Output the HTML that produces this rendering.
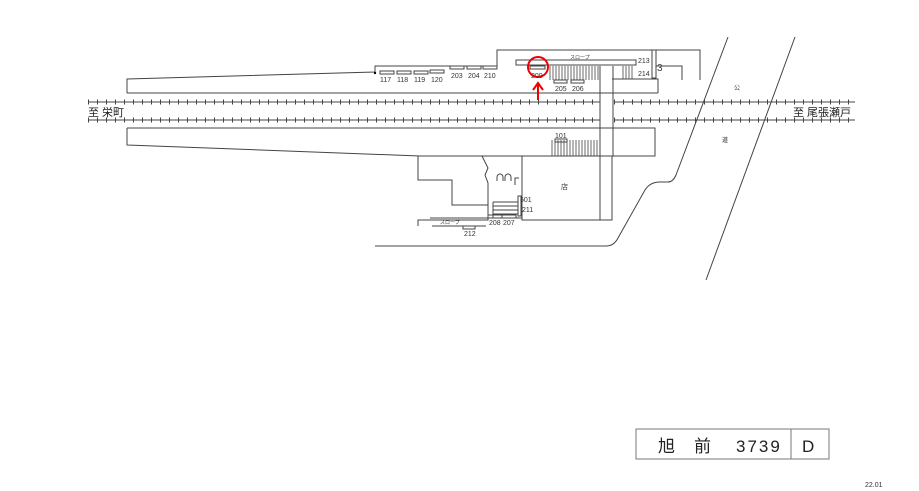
<!DOCTYPE html>
<html><head><meta charset="utf-8"><style>
html,body{margin:0;padding:0;background:#fff;}
svg{display:block;font-family:"Liberation Sans","Noto Sans CJK JP",sans-serif;}
</style></head><body>
<svg width="919" height="491" viewBox="0 0 919 491" xmlns="http://www.w3.org/2000/svg">
<g fill="none" stroke="#444" stroke-width="1">
<!-- tracks -->
<line x1="88" y1="102" x2="600" y2="102"/><line x1="614" y1="102" x2="855" y2="102"/>
<line x1="88" y1="120" x2="600" y2="120"/><line x1="614" y1="120" x2="855" y2="120"/>
<line x1="88" y1="102" x2="600" y2="102" stroke-width="5" stroke-dasharray="1 8"/>
<line x1="614" y1="102" x2="855" y2="102" stroke-width="5" stroke-dasharray="1 8"/>
<line x1="88" y1="120" x2="600" y2="120" stroke-width="5" stroke-dasharray="1 8"/>
<line x1="614" y1="120" x2="855" y2="120" stroke-width="5" stroke-dasharray="1 8"/>
<!-- upper platform -->
<polyline points="127,93 127,79 375,72 375,66 497,66 497,50 700,50 700,80"/>
<line x1="127" y1="93" x2="658" y2="93"/>
<polyline points="612,79 658,79 658,93"/>
<rect x="516" y="60" width="120" height="5"/>
<rect x="652" y="50" width="4" height="28"/>
<polyline points="656,66 682,66 682,80"/>
<!-- top shelters -->
<rect x="380" y="71" width="14" height="3"/><rect x="397" y="71" width="14" height="3"/>
<rect x="414" y="71" width="14" height="3"/><rect x="430" y="70" width="14" height="3"/>
<rect x="450" y="66" width="14" height="3"/><rect x="467" y="66" width="14" height="3"/><rect x="483" y="66" width="14" height="3"/>
<rect x="530" y="66" width="15" height="3"/>
<rect x="554" y="80" width="13" height="3"/><rect x="571" y="80" width="13" height="3"/>
<!-- stairs -->
<g stroke-width="0.8">
<path d="M550 66v14M553 66v14M556 66v14M559 66v14M562 66v14M565 66v14M568 66v14M571 66v14M574 66v14M577 66v14M580 66v14M583 66v14M586 66v14M589 66v14M592 66v14M595 66v14M598 66v14"/>
<path d="M623 66v13M626 66v13M629 66v13M632 66v13"/>
<path d="M552 140v16M555 140v16M558 140v16M561 140v16M564 140v16M567 140v16M570 140v16M573 140v16M576 140v16M579 140v16M582 140v16M585 140v16M588 140v16M591 140v16M594 140v16M597 140v16"/>
</g>
<!-- passage -->
<line x1="600" y1="66" x2="600" y2="220"/><line x1="613" y1="66" x2="613" y2="156"/>
<!-- lower platform -->
<polyline points="127,128 655,128 655,156 420,156 127,145 127,128"/>
<rect x="555" y="139" width="12" height="3"/>
<!-- station building -->
<rect x="522" y="156" width="90" height="64"/>
<polyline points="418,156 418,180 452,180 452,205 488,205 488,183 485,175 488,168 482,156"/>
<polyline points="488,205 488,220 418,220 418,226"/>
<line x1="430" y1="218" x2="522" y2="218"/>
<polyline points="432,226 486,226"/>
<rect x="463" y="226" width="12" height="3"/>
<path d="M493 202h25M493 206h25M493 210h25M493 214h25M493 202v16"/>
<rect x="488" y="215" width="14" height="3"/><rect x="502" y="215" width="14" height="3"/>
<rect x="518" y="196" width="3" height="20"/>
<path d="M497 181v-4a3 3 0 0 1 6 0v4M505 181v-4a3 3 0 0 1 6 0v4M515 185v-7h4"/>
<!-- ground line & road -->
<path d="M375 246 H606 Q614 246 618 238 L645 190 Q650 182 660 182 L668 182 Q673 182 676 175 L728 37"/>
<line x1="795" y1="37" x2="706" y2="280"/>
<!-- title box -->
<rect x="636" y="429" width="193" height="30" stroke="#777"/>
<line x1="791" y1="429" x2="791" y2="459" stroke="#777"/>
</g>
<!-- red marker -->
<circle cx="538" cy="67" r="10" fill="none" stroke="#e00" stroke-width="2"/>
<line x1="538" y1="100" x2="538" y2="85" stroke="#e00" stroke-width="2"/>
<path d="M533 90 L538 83 L543 90" fill="none" stroke="#e00" stroke-width="2"/>
<circle cx="375" cy="73" r="1.2" fill="#000"/>
<g font-size="7" fill="#333">
<text x="380" y="82">117</text><text x="397" y="82">118</text><text x="414" y="82">119</text><text x="431" y="82">120</text>
<text x="451" y="78">203</text><text x="468" y="78">204</text><text x="484" y="78">210</text>
<text x="531" y="78">209</text><text x="555" y="91">205</text><text x="572" y="91">206</text>
<text x="638" y="63">213</text><text x="638" y="76">214</text>
<text x="555" y="138">101</text>
<text x="520" y="202">501</text><text x="522" y="212">211</text>
<text x="489" y="225">208</text><text x="503" y="225">207</text><text x="464" y="236">212</text>
<text x="570" y="59" font-size="5">スロープ</text><text x="440" y="224" font-size="5">スロープ</text>
<text x="561" y="189">店</text><text x="734" y="90" font-size="6">公</text><text x="722" y="142" font-size="6">道</text>
</g>
<text x="657" y="71" font-size="10" fill="#444">3</text>
<text x="88" y="116" font-size="11" fill="#222">至 栄町</text>
<text x="793" y="116" font-size="11" fill="#222">至 尾張瀬戸</text>
<text x="658" y="452" font-size="17" fill="#222">旭</text>
<text x="694" y="452" font-size="17" fill="#222">前</text>
<text x="736" y="452" font-size="17" fill="#222" letter-spacing="2">3739</text>
<text x="802" y="452" font-size="17" fill="#222">D</text>
<text x="865" y="487" font-size="7" fill="#333">22.01</text>
</svg>
</body></html>
